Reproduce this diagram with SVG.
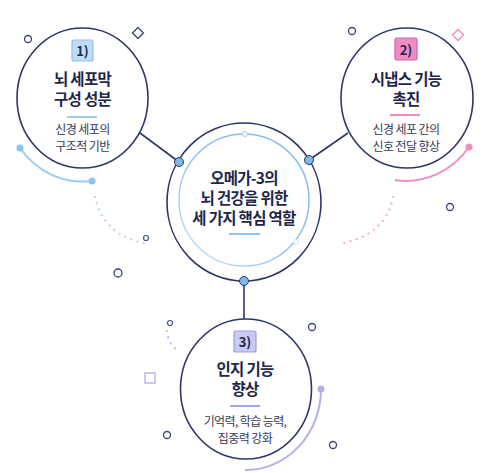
<svg xmlns="http://www.w3.org/2000/svg" width="483" height="473" viewBox="0 0 483 473">
<defs>
<style>
.ring{fill:#fff;stroke:#2e3764;stroke-width:1.6}
.conn{stroke:#2e3764;stroke-width:1.6;fill:none}
.jdot{fill:#7db8ea;stroke:#2e3764;stroke-width:1}
.deco{fill:none;stroke:#3b4470;stroke-width:1.3}
.t{font-family:"Noto Sans CJK KR","Noto Sans",sans-serif;text-anchor:middle}
.title{font-size:15.5px;font-weight:700;fill:#1e274b;letter-spacing:-0.7px}
.sub{font-size:12px;font-weight:400;fill:#353a55;letter-spacing:-0.6px}
.badge{font-size:13px;font-weight:700;fill:#1e274b}
.dots{fill:none;stroke-width:2.2;stroke-linecap:round;stroke-dasharray:0 6.5}
</style>
<linearGradient id="ig" x1="1" y1="0" x2="0" y2="1">
<stop offset="0" stop-color="#7fb8ec"/>
<stop offset="0.55" stop-color="#8fc3f0"/>
<stop offset="1" stop-color="#cfe4f8"/>
</linearGradient>
</defs>
<rect width="483" height="473" fill="#fff"/>
<g id="decorations">
<circle class="deco" cx="28" cy="39" r="3.5"/>
<path class="deco" d="M138,27.5 L143.5,33 L138,38.5 L132.5,33 Z"/>
<circle class="deco" cx="352" cy="31" r="3.5"/>
<path d="M458,29.5 L463.5,35 L458,40.5 L452.5,35 Z" fill="none" stroke="#ef8dc4" stroke-width="1.4"/>
<path d="M20,148 A78,83 0 0 0 92,181" fill="none" stroke="#9ccbf0" stroke-width="2"/>
<circle cx="20" cy="148" r="3.5" fill="#8cc3ef"/>
<circle cx="92" cy="181" r="3.5" fill="#8cc3ef"/>
<path d="M469,147 A78,83 0 0 1 395,180" fill="none" stroke="#ef8dc4" stroke-width="2"/>
<circle cx="469" cy="147" r="3.5" fill="#ef8dc4"/>
<path d="M321,389 A75,81 0 0 1 245,470" fill="none" stroke="#b3b1ec" stroke-width="2"/>
<circle cx="321" cy="389" r="3.5" fill="#b3b1ec"/>
<path class="dots" d="M95,197 Q103,236 148,244" stroke="#a9d0f2"/>
<circle cx="146" cy="238" r="2.5" fill="none" stroke="#4a5580" stroke-width="1.2"/>
<circle class="deco" cx="118" cy="273" r="4"/>
<path class="dots" d="M393,197 Q386,236 338,244" stroke="#f2a6cf"/>
<circle class="deco" cx="450" cy="207" r="3.5"/>
<circle cx="170" cy="323" r="2.5" fill="none" stroke="#4a5580" stroke-width="1.2"/>
<path class="dots" d="M167,331 Q168,344 178,351" stroke="#b8b6ee"/>
<circle class="deco" cx="312" cy="327" r="3.5"/>
<rect x="145" y="373" width="10" height="10" fill="none" stroke="#b8b6ee" stroke-width="1.5"/>
<circle class="deco" cx="167" cy="435" r="3.5"/>
<circle class="deco" cx="333" cy="445" r="3.5"/>
</g>
<g id="connectors">
<line class="conn" x1="140" y1="133" x2="179" y2="162"/>
<line class="conn" x1="348" y1="133" x2="309" y2="160"/>
<line class="conn" x1="244" y1="281" x2="244" y2="319"/>
</g>
<g id="center">
<ellipse class="ring" cx="244" cy="202" rx="77" ry="79"/>
<ellipse cx="244" cy="200" rx="65" ry="66" fill="none" stroke="url(#ig)" stroke-width="1.5"/>
<circle cx="245" cy="134" r="2.5" fill="#fff" stroke="#9ccbf0" stroke-width="1"/>
<circle cx="296" cy="242" r="2.5" fill="#fff" stroke="#cfe4f8" stroke-width="1"/>
<text class="t title" x="244" y="184">오메가-3의</text>
<text class="t title" x="244" y="204">뇌 건강을 위한</text>
<text class="t title" x="244" y="224">세 가지 핵심 역할</text>
<line x1="229" y1="234" x2="260" y2="234" stroke="#8cc3ef" stroke-width="2"/>
</g>
<g id="junctions">
<circle class="jdot" cx="179" cy="162" r="4.5"/>
<circle class="jdot" cx="309" cy="160" r="4.5"/>
<circle class="jdot" cx="244" cy="281" r="4.5"/>
</g>
<g id="node1">
<ellipse class="ring" cx="82.5" cy="98" rx="65.5" ry="70"/>
<rect x="72" y="40" width="21" height="21" rx="2" fill="#bedcf6" stroke="#93bfe8" stroke-width="1.2"/>
<text class="t badge" x="82.5" y="55.5">1)</text>
<text class="t title" x="82.5" y="85">뇌 세포막</text>
<text class="t title" x="82.5" y="105">구성 성분</text>
<line x1="67" y1="117" x2="97" y2="117" stroke="#9ccbf0" stroke-width="2"/>
<text class="t sub" x="82.5" y="134">신경 세포의</text>
<text class="t sub" x="82.5" y="151">구조적 기반</text>
</g>
<g id="node2">
<ellipse class="ring" cx="407" cy="98" rx="66" ry="70"/>
<rect x="395" y="38" width="22" height="22" rx="2" fill="#f08cc4" stroke="#cf6aa6" stroke-width="1.2"/>
<text class="t badge" x="406" y="54.5">2)</text>
<text class="t title" x="406" y="85">시냅스 기능</text>
<text class="t title" x="406" y="105">촉진</text>
<line x1="390" y1="115" x2="420" y2="115" stroke="#ec8cc0" stroke-width="2"/>
<text class="t sub" x="406" y="134">신경 세포 간의</text>
<text class="t sub" x="406" y="151">신호 전달 향상</text>
</g>
<g id="node3">
<ellipse class="ring" cx="246" cy="389" rx="65.5" ry="70"/>
<rect x="234" y="331" width="22" height="21" rx="2" fill="#c9c9f3" stroke="#9d9de0" stroke-width="1.2"/>
<text class="t badge" x="245" y="346.5">3)</text>
<text class="t title" x="245" y="375">인지 기능</text>
<text class="t title" x="245" y="395">향상</text>
<line x1="230" y1="406" x2="260" y2="406" stroke="#a7a7e8" stroke-width="2"/>
<text class="t sub" x="245" y="426">기억력, 학습 능력,</text>
<text class="t sub" x="245" y="443">집중력 강화</text>
</g>
</svg>
